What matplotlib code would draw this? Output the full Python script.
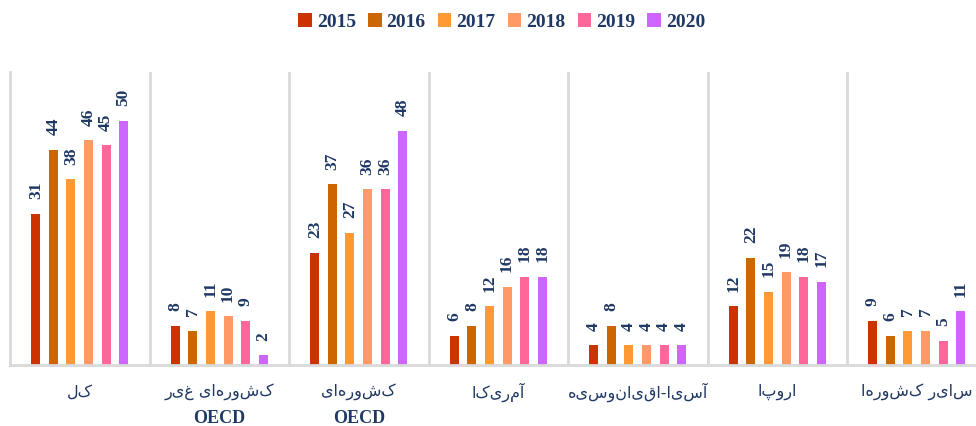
import numpy as np
import matplotlib.pyplot as plt
from matplotlib.transforms import blended_transform_factory

# data
categories = ["کل", "کشورهای غیر", "کشورهای", "آمریکا", "آسیا-اقیانوسیه", "اروپا", "سایر کشورها"]
second_line = ["", "OECD", "OECD", "", "", "", ""]
years = ["2015", "2016", "2017", "2018", "2019", "2020"]
v2015 = [31, 8, 23, 6, 4, 12, 9]
v2016 = [44, 7, 37, 8, 8, 22, 6]
v2017 = [38, 11, 27, 12, 4, 15, 7]
v2018 = [46, 10, 36, 16, 4, 19, 7]
v2019 = [45, 9, 36, 18, 4, 18, 5]
v2020 = [50, 2, 48, 18, 4, 17, 11]
series = [v2015, v2016, v2017, v2018, v2019, v2020]
colors = ["#CC3300", "#CC6600", "#FF9933", "#FF9966", "#FF6699", "#CC66FF"]
navy = "#1F3864"

fig = plt.figure(figsize=(9.76, 4.26), dpi=100)
ax = fig.add_axes([10 / 976, 61 / 426, 976.5 / 976, 293 / 426])

x = np.arange(len(categories))
pitch = 0.126
width = 0.065
for i, (vals, c, yr) in enumerate(zip(series, colors, years)):
    pos = x + (i - 2.5) * pitch
    ax.bar(pos, vals, width=width, color=c, label=yr)
    for p, v in zip(pos, vals):
        ax.text(p, v + 3.0, str(v), rotation=90, ha="center", va="bottom",
                fontsize=12.5, fontweight="bold", family="Liberation Serif", color=navy)

ax.set_xlim(-0.5, len(categories) - 0.5)
ax.set_ylim(0, 60)
ax.set_yticks([])
ax.set_xticks([])
for s in ["top", "right"]:
    ax.spines[s].set_visible(False)
for s in ["left", "bottom"]:
    ax.spines[s].set_color("#D9D9D9")
    ax.spines[s].set_linewidth(2)
for k in range(1, len(categories)):
    ax.axvline(k - 0.5, color="#D9D9D9", lw=2)

# matplotlib has no bidi support, so reverse the Persian strings for display
trans = blended_transform_factory(ax.transData, ax.transAxes)
for xi, name, sub in zip(x, categories, second_line):
    ax.text(xi, -0.092, name[::-1], ha="center", va="center", fontsize=11.5,
            family="DejaVu Sans", color=navy, transform=trans)
    if sub:
        ax.text(xi, -0.183, sub, ha="center", va="center", fontsize=13,
                fontweight="bold", family="Liberation Serif", color=navy, transform=trans)

leg = fig.legend(loc="upper center", bbox_to_anchor=(0.514, 1.01), ncol=6, frameon=False,
                 handlelength=0.7, handleheight=0.7, handletextpad=0.25, columnspacing=0.63,
                 prop={"family": "Liberation Serif", "weight": "bold", "size": 14})
for t in leg.get_texts():
    t.set_color(navy)

fig.savefig("out.png", dpi=100)
